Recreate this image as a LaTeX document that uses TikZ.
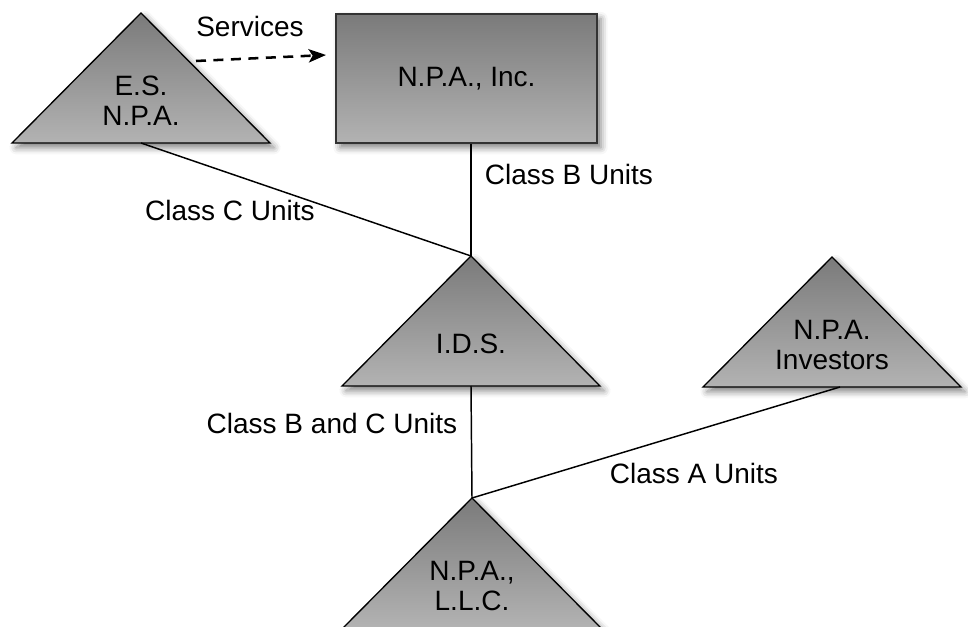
\documentclass[tikz,border=0pt]{standalone}
\usepackage{fontspec}
\setmainfont{Liberation Sans}
\usetikzlibrary{arrows.meta,shadows.blur}

\begin{document}
\begin{tikzpicture}[x=0.75pt, y=-0.75pt, font=\fontsize{21}{22.5}\selectfont,
      grayfill/.style={top color=black!52, bottom color=black!30},
      firmbox/.style={draw=black!80, line width=1.5pt, grayfill, minimum width=195.75pt, minimum height=96.75pt,
        blur shadow={shadow xshift=3pt, shadow yshift=-3.5pt, shadow blur radius=5pt, shadow opacity=50}},
      tri/.style={draw=black, line width=1pt, line join=miter, grayfill,
        blur shadow={shadow xshift=3pt, shadow yshift=-3.5pt, shadow blur radius=5pt, shadow opacity=50}},
      link/.style={line width=1.1pt},
      svc/.style={line width=1.9pt, dash pattern=on 7.5pt off 5.6pt, -{Stealth[length=13pt, width=10pt, inset=3pt]}},
      units/.style={anchor=base, inner sep=0pt},
      party/.pic={
        \path[tri] (0,0) -- (129,130) -- (-129,130) -- cycle;
        \coordinate (-top) at (0,0);
        \coordinate (-base) at (0,130);
        \node[align=center] (-name) at (0,88) {#1};
      }]
    \useasboundingbox (0,0) rectangle (968,627);
    \clip (0,0) rectangle (968,627);
    \node[firmbox] (inc) at (466.5,78.5) {N.P.A., Inc.};
    \pic (es) at (141,13) {party={E.S.\\N.P.A.}};
    \pic (ids) at (471,256) {party={I.D.S.}};
    \pic (inv) at (832,257) {party={N.P.A.\\Investors}};
    \pic (llc) at (472,498) {party={N.P.A.,\\L.L.C.}};
    \coordinate (svc-from) at (196,61);
    \coordinate (svc-to) at (326,55);
    \draw[svc] (svc-from) -- (svc-to);
    \draw[link] (inc.south -| ids-top) -- (ids-top);
    \draw[link] (es-base) -- (ids-top);
    \draw[link] (ids-base) -- (llc-top);
    \draw[link] ([xshift=6pt]inv-base) -- (llc-top);
    \node[units] (lb-svc) at (250,37) {Services};
    \node[units] (lb-b) at (569,185) {Class B Units};
    \node[units] (lb-c) at (230,221) {Class C Units};
    \node[units] (lb-bc) at (332,433) {Class B and C Units};
    \node[units] (lb-a) at (694,483) {Class A Units};
  \end{tikzpicture}
\end{document}
